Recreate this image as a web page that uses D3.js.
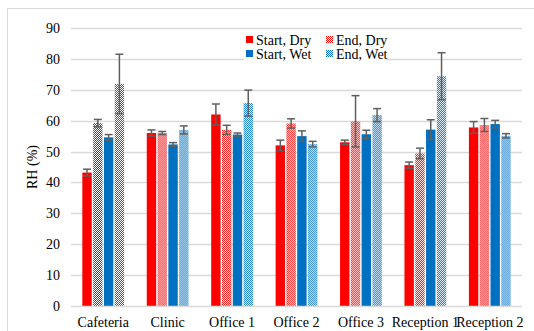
<!DOCTYPE html>
<html><head><meta charset="utf-8">
<script src="https://cdn.jsdelivr.net/npm/d3@7"></script>
<style>body{margin:0;background:#fff}svg{display:block}</style>
</head><body><svg id="c" width="534" height="331"></svg>
<script>
const categories = ["Cafeteria","Clinic","Office 1","Office 2","Office 3","Reception 1","Reception 2"];
const seriesNames = ["Start, Dry","End, Dry","Start, Wet","End, Wet"];
const startDry = [43.2, 56.0, 62.0, 52.0, 53.0, 45.6, 57.8];
const endDry   = [59.2, 56.0, 57.0, 59.1, 59.8, 49.4, 58.6];
const startWet = [54.6, 52.3, 55.5, 55.0, 55.6, 57.1, 58.9];
const endWet   = [71.9, 57.0, 65.7, 52.4, 61.8, 74.4, 55.1];
const errStartDry = [1.1, 1.0, 3.4, 1.7, 0.7, 1.0, 1.9];
const errEndDry   = [1.2, 0.5, 1.5, 1.5, 8.3, 1.7, 2.1];
const errStartWet = [0.9, 0.6, 0.5, 1.7, 1.3, 3.2, 1.2];
const errEndWet   = [9.6, 1.3, 4.2, 0.9, 2.1, 7.6, 0.7];
const yTicks = [0,10,20,30,40,50,60,70,80,90];

const values = [startDry, endDry, startWet, endWet];
const errs = [errStartDry, errEndDry, errStartWet, errEndWet];

const svg = d3.select("#c");
const defs = svg.append("defs");
function checker(id, color){
  const p = defs.append("pattern").attr("id", id).attr("patternUnits","userSpaceOnUse")
    .attr("width",2).attr("height",2);
  p.append("rect").attr("width",2).attr("height",2).attr("fill","#fff");
  p.append("rect").attr("width",1).attr("height",1).attr("fill",color);
  p.append("rect").attr("x",1).attr("y",1).attr("width",1).attr("height",1).attr("fill",color);
}
checker("pr","#FF0000");
checker("pb","#0070C0");
const fills = ["#FF0000","url(#pr)","#0070C0","url(#pb)"];

// outer border (top & left)
svg.append("line").attr("x1",7.5).attr("x2",534).attr("y1",8.5).attr("y2",8.5).attr("stroke","#d9d9d9");
svg.append("line").attr("x1",7.5).attr("x2",7.5).attr("y1",8.5).attr("y2",331).attr("stroke","#d9d9d9");

const x0 = 71, x1 = 522, yTop = 28, yBot = 306;
const y = d3.scaleLinear().domain([0,90]).range([yBot,yTop]);
const xb = d3.scaleBand().domain(categories).range([x0,x1]).paddingInner(0).paddingOuter(0);
const xs = d3.scaleBand().domain(d3.range(4)).range([0, xb.bandwidth()]).paddingInner(0.13).paddingOuter(1.05);

const font = "'Liberation Serif','Times New Roman',serif";

// gridlines
svg.append("g").selectAll("line").data(yTicks.filter(t=>t>0)).join("line")
  .attr("x1",x0).attr("x2",x1).attr("y1",d=>Math.round(y(d))+0.5).attr("y2",d=>Math.round(y(d))+0.5)
  .attr("stroke","#d9d9d9").attr("stroke-width",1.3);

// y axis labels
const ya = svg.append("g").attr("transform",`translate(${x0},0)`)
  .call(d3.axisLeft(y).tickValues(yTicks).tickSize(0).tickPadding(11));
ya.select(".domain").remove();
ya.selectAll("text").attr("font-family",font).attr("font-size",14).attr("fill","#000");

// bars
const groups = svg.append("g").selectAll("g").data(categories).join("g")
  .attr("transform",d=>`translate(${xb(d)},0)`);
groups.each(function(cat, ci){
  const g = d3.select(this);
  for(let s=0;s<4;s++){
    const v = values[s][ci], e = errs[s][ci];
    const bx = xs(s), bw = xs.bandwidth();
    g.append("rect").attr("x",bx).attr("width",bw).attr("y",y(v)).attr("height",yBot-y(v)).attr("fill",fills[s]);
    const cx = bx + bw/2;
    g.append("line").attr("x1",cx).attr("x2",cx).attr("y1",y(v+e)).attr("y2",y(v-e)).attr("stroke","#5f5f5f").attr("stroke-width",1.5);
    [v+e, v-e].forEach(t=>{
      g.append("line").attr("x1",cx-4).attr("x2",cx+4).attr("y1",y(t)).attr("y2",y(t)).attr("stroke","#5f5f5f").attr("stroke-width",1.5);
    });
  }
});

// baseline
svg.append("line").attr("x1",x0).attr("x2",x1).attr("y1",yBot+0.5).attr("y2",yBot+0.5).attr("stroke","#d9d9d9").attr("stroke-width",1.3);

// x axis labels
const xa = svg.append("g").attr("transform",`translate(0,${yBot})`)
  .call(d3.axisBottom(xb).tickSize(0).tickPadding(11));
xa.select(".domain").remove();
xa.selectAll("text").attr("font-family",font).attr("font-size",14).attr("fill","#000");

// y title
svg.append("text").attr("transform",`translate(37,${(yTop+yBot)/2}) rotate(-90)`)
  .attr("text-anchor","middle").attr("font-family",font).attr("font-size",14).text("RH (%)");

// legend
const lg = svg.append("g");
lg.append("rect").attr("x",244).attr("y",31).attr("width",142).attr("height",31).attr("fill","#fff");
const lpos = [[246,40],[326,40],[246,54],[326,54]];
seriesNames.forEach((n,i)=>{
  const [lx,ly] = lpos[i];
  lg.append("rect").attr("x",lx).attr("y",ly-4).attr("width",7).attr("height",7).attr("fill",fills[i]);
  lg.append("text").attr("x",lx+10).attr("y",ly+4.5).attr("font-family",font).attr("font-size",14).text(n);
});
</script></body></html>
